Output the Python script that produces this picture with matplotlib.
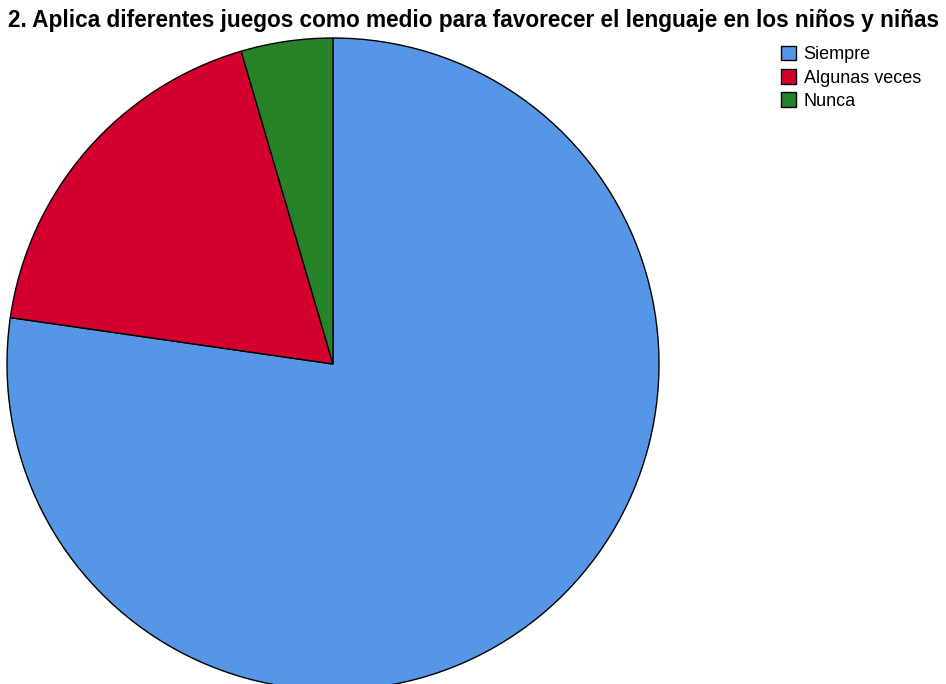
import matplotlib.pyplot as plt
from matplotlib.patches import Patch

# response counts
labels = ['Siempre', 'Algunas veces', 'Nunca']
counts = [17, 4, 1]
colors = ['#5596E6', '#D3002F', '#288228']
title = '2. Aplica diferentes juegos como medio para favorecer el lenguaje en los niños y niñas'

plt.rcParams['font.family'] = ['Liberation Sans', 'DejaVu Sans']

fig = plt.figure(figsize=(9.46, 6.84), dpi=100)
ax = fig.add_axes([0, 0, 1, 1])

# pie in pixel-like data units: centre (0,0), radius 326
ax.pie(counts, colors=colors, radius=326, center=(0, 0), startangle=90,
       counterclock=False, wedgeprops=dict(edgecolor='black', linewidth=1.0))
ax.set_xlim(-333, 946 - 333)
ax.set_ylim(364 - 684, 364)
ax.set_aspect('equal')
ax.axis('off')

fig.text(473 / 946, 1 - 20 / 684, title, fontsize=16.3, fontweight='bold',
         ha='center', va='center')

handles = [Patch(facecolor=c, edgecolor='black', linewidth=1.0) for c in colors]
leg = fig.legend(handles, labels, loc='upper left', bbox_to_anchor=(781 / 946, 1 - 46 / 684),
                 frameon=False, fontsize=13, handlelength=0.85, handleheight=0.85,
                 handletextpad=0.4, labelspacing=0.32, borderpad=0, borderaxespad=0)

fig.savefig('out.png', dpi=100)
